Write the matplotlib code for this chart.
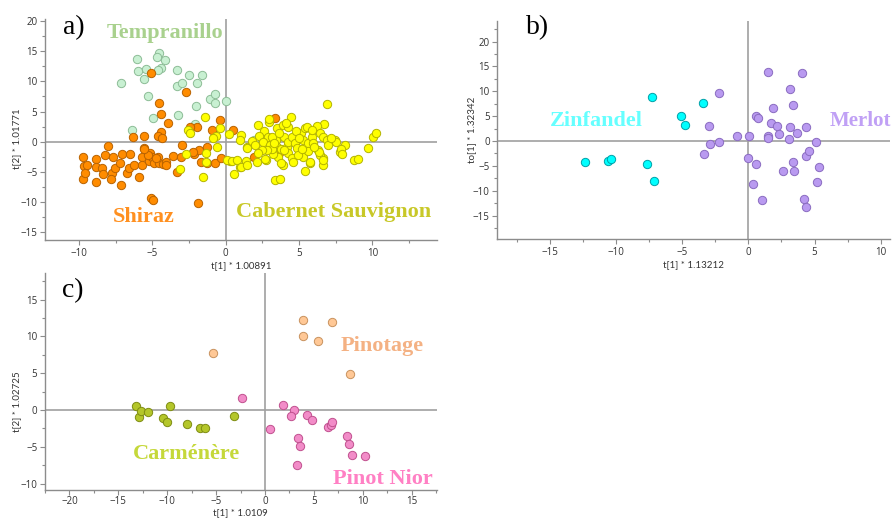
import numpy as np
import matplotlib.pyplot as plt
from matplotlib.ticker import MultipleLocator

# ---- panel a) data ----
tempranillo_x = [-7.15, -6.05, -5.95, -5.45, -5.6, -4.57, -4.68, -4.13, -4.38, -4.6, -5.27, -4.93,
                 -3.3, -3.35, -2.97, -2.48, -1.97, -1.62, -2.03, -1.07, -0.7, -0.73, 0.0, -3.25,
                 -2.07, -6.4, 1.95]
tempranillo_y = [9.8, 13.7, 11.7, 12.0, 10.45, 14.7, 13.95, 13.5, 12.26, 11.9, 7.6, 3.85,
                 11.87, 9.28, 9.75, 11.05, 9.67, 11.1, 5.93, 7.02, 7.85, 6.45, 6.66, 4.4,
                 2.98, 1.9, 0.33]

shiraz_x = [-5.11, -2.73, -4.52, -4.41, -3.95, -4.41, -4.61, -4.32, -5.59, -6.3, -0.36, -0.91,
            0.52, -1.98, -2.41, 3.39, 3.65, 1.95, -5.11, -4.95, -1.86,
            -9.75, -9.64, -9.75, -9.59, -8.82, -8.84, -8.82, -8.23, -8.05, -8.41, -8.39, -7.66,
            -7.73, -7.82, -7.16, -7.55, -7.2, -7.05, -6.52, -6.75, -6.57, -6.25, -5.89, -5.73,
            -5.57, -5.73, -5.23, -5.14, -5.0, -4.89, -4.61, -4.52, -4.25, -4.09, -3.57, -3.34,
            -3.0, -3.05, -2.16, -1.82, -1.68, -1.3, -0.75, -0.3,
            -9.48, -5.28, -4.77, -4.07, -2.25, -1.3, -5.55]
shiraz_y = [11.33, 8.18, 6.41, 4.53, 3.04, 1.66, 0.88, 0.66, 0.94, 0.72, 3.59, 1.93,
            1.99, 2.49, 2.38, 3.98, -1.82, -2.6, -9.39, -9.67, -10.22,
            -2.49, -4.03, -6.19, -5.25, -2.82, -4.14, -6.74, -2.15, -0.77, -4.42, -5.41, -2.49,
            -5.19, -6.19, -7.18, -4.42, -3.59, -2.04, -2.04, -5.25, -4.42, -3.87, -5.91, -2.49,
            -0.99, -3.87, -3.15, -1.93, -2.49, -3.59, -2.49, -3.59, -3.76, -3.43, -2.38, -4.97,
            -0.55, -2.6, -2.04, -1.38, -3.43, -0.94, -3.59, -2.76,
            -3.86, -2.2, -2.75, -3.86, -1.76, -3.47, -1.26]

cabernet_x = [-1.41, -2.55, -2.43, -0.39, -0.66, -0.89, -0.57, -1.34, -2.73, -1.34, -1.52, -3.11,
              0.2, 0.3, 0.59, 1.02, 0.98, 1.43, 1.39, 0.98, 2.23, 2.64, 2.91, 2.98, 3.48, 3.93,
              4.43, 4.27, 6.89, 6.7, 6.2, 7.45, 8.14, 7.8, 8.77, 9.0, 9.73, 10.07, 10.25, 3.39,
              3.7, 5.41, 5.75, 6.66, 6.66,
              4.11, 2.95, 2.3, 1.47, 0.06, 0.41, 0.79, 1.04, 1.43, 2.72, 2.52, 3.0, 3.43, 3.13,
              3.52, 3.75, 4.0, 4.16, 4.27, 4.5, 4.72, 4.84, 5.13, 5.25, 5.25, 5.41, 5.57, 5.63,
              5.63, 5.86, 5.93, 6.27, 6.43, 6.43, 6.66, 6.66, 6.93, 7.52, 7.84, 7.91, 5.75, 2.68,
              3.59, 3.93, 4.27, 4.5, 3.25, 3.18, 2.79, 2.45, 4.95, 5.18, 6.38,
              1.8, 2.0, 2.2, 3.6, 4.8, 5.0, 3.3, 4.0, 2.1, 5.9, 6.0, 7.0, 7.2, 3.8, 4.6]
cabernet_y = [4.14, 1.93, 1.38, 2.21, 0.94, 0.66, -0.83, -1.82, -2.04, -3.43, -5.8, -4.59,
              1.27, -3.26, -5.41, 1.1, 0.28, -0.83, -3.2, -4.25, 2.76, 1.77, 0.72, 3.31, 2.21, 2.76,
              4.03, 2.49, 6.24, 2.93, 2.65, 0.28, -0.55, -1.66, -3.04, -2.93, -0.99, 0.72, 1.49, -6.35,
              -6.24, -4.86, -3.59, -3.87, -2.76,
              3.15, 3.7, 1.0, -1.1, -3.04, -3.15, -3.04, -4.25, -3.86, -3.04, 0.0, -0.55, 0.28, 0.83,
              -0.82, -1.2, 0.72, -0.82, 0.0, 0.83, -0.27, -1.1, 1.38, 0.28, -2.48, 2.21, 2.48, -0.27,
              -1.49, 0.83, -0.27, -1.38, 1.38, -2.2, 0.83, -3.04, 0.28, 0.0, -1.2, -2.04, -3.31, -2.87,
              -2.6, -3.86, -1.93, -2.76, -2.04, -1.27, -1.38, -1.38, -2.2, -1.27, -1.66,
              0.2, -0.5, -1.9, 1.5, 1.8, 0.6, -0.2, -1.3, -3.3, 2.0, -0.9, -0.6, 0.6, -3.5, -3.3]

# ---- panel b) data ----
zinfandel_x = [-12.34, -10.58, -10.35, -7.63, -7.1, -7.3, -5.09, -4.76, -3.4]
zinfandel_y = [-4.16, -4.03, -3.62, -4.7, -8.05, 8.86, 4.97, 3.22, 7.58]

merlot_x = [-2.19, -3.0, -2.9, -3.35, -2.19, -0.88, 0.05, 0.0, 0.58, 0.71, 0.58, 0.38, 1.03,
            1.51, 1.51, 1.46, 1.71, 1.84, 2.19, 2.34, 2.64, 3.12, 3.12, 3.07, 3.35, 3.35, 3.48,
            3.7, 4.03, 4.36, 4.36, 4.23, 4.36, 4.61, 5.09, 5.16, 5.34]
merlot_y = [9.6, 2.95, -0.67, -2.68, -0.13, 1.07, 0.94, -3.36, 5.1, 4.56, -4.56, -8.72, -11.81,
            13.83, 1.07, 0.54, 3.56, 6.71, 3.02, 1.48, -6.04, 10.47, 2.82, 0.34, 7.25, -4.3, -6.04,
            1.54, 13.62, 2.82, -3.09, -11.68, -13.29, -1.95, -0.2, -8.19, -5.23]

# ---- panel c) data ----
carmenere_x = [-13.21, -12.87, -12.73, -12.01, -10.48, -10.03, -9.73, -8.02, -6.66, -6.11, -3.14]
carmenere_y = [0.54, -0.9, -0.13, -0.31, -1.03, -1.66, 0.58, -1.93, -2.42, -2.42, -0.85]

pinotage_x = [-5.29, 3.86, 6.83, 3.92, 5.46, 8.74]
pinotage_y = [7.7, 12.18, 11.96, 9.99, 9.31, 4.93]

pinot_x = [-2.39, 1.88, 2.97, 2.63, 0.51, 4.3, 4.85, 3.41, 3.58, 3.24, 6.48, 6.76, 6.89,
           8.36, 8.63, 8.94, 10.27]
pinot_y = [1.57, 0.67, 0.0, -0.85, -2.6, -0.67, -1.43, -3.76, -4.93, -7.52, -2.37, -2.1, -1.57,
           -3.49, -4.66, -6.05, -6.27]

W, H = 895, 520
fig = plt.figure(figsize=(W / 100, H / 100), dpi=100)


def make_axes(left, right, top, bottom, xlim, ylim, xpad=2):
    ax = fig.add_axes([left / W, 1 - bottom / H, (right - left) / W, (bottom - top) / H])
    ax.patch.set_alpha(0)
    ax.set_xlim(*xlim)
    ax.set_ylim(*ylim)
    for s in ['top', 'right']:
        ax.spines[s].set_visible(False)
    for s in ['left', 'bottom']:
        ax.spines[s].set_color('#8c8c8c')
        ax.spines[s].set_linewidth(1.0)
    ax.xaxis.set_major_locator(MultipleLocator(5))
    ax.yaxis.set_major_locator(MultipleLocator(5))
    ax.xaxis.set_minor_locator(MultipleLocator(2.5))
    ax.yaxis.set_minor_locator(MultipleLocator(2.5))
    ax.tick_params(which='major', length=3.5, width=0.8, color='#8c8c8c',
                   labelsize=7, labelcolor='#333333', pad=2)
    ax.tick_params(axis='x', which='major', pad=xpad)
    ax.tick_params(which='minor', length=2, width=0.8, color='#8c8c8c')
    ax.axhline(0, color='#a0a0a0', linewidth=1.2, zorder=1)
    ax.axvline(0, color='#a0a0a0', linewidth=1.2, zorder=1)
    for lab in ax.get_xticklabels() + ax.get_yticklabels():
        lab.set_family('Open Sans')
    return ax


def dots(ax, x, y, face, edge):
    ax.scatter(x, y, s=36, c=face, edgecolors=edge, linewidths=0.7, zorder=3)


def label(x, y, s, color, size=16, weight='bold'):
    fig.text(x / W, 1 - y / H, s, color=color, fontsize=size, fontweight=weight,
             family='Liberation Serif', ha='left', va='center')


axis_font = dict(fontsize=7, color='#333333', family='Lato')

# a)
ax1 = make_axes(45, 436.7, 19.1, 240, (-12.32, 14.38), (-16.27, 20.3))
dots(ax1, tempranillo_x, tempranillo_y, '#c8f0d2', '#8cbc96')
dots(ax1, shiraz_x, shiraz_y, '#ff8c00', '#b86200')
dots(ax1, cabernet_x, cabernet_y, '#ffff00', '#b4b400')
ax1.set_xlabel('t[1] * 1.00891', **axis_font)
ax1.set_ylabel('t[2] * 1.01771', **axis_font)
ax1.xaxis.set_label_coords(0.5, -0.095)
ax1.yaxis.set_label_coords(-0.060, 0.457)

# b)
ax2 = make_axes(497.3, 890, 20.7, 239.3, (-18.96, 10.7), (-19.78, 24.2))
dots(ax2, zinfandel_x, zinfandel_y, '#00ffff', '#00a0a8')
dots(ax2, merlot_x, merlot_y, '#b99af0', '#8a6cc0')
ax2.set_xlabel('t[1] * 1.13212', **axis_font)
ax2.set_ylabel('to[1] * 1.32342', **axis_font)
ax2.xaxis.set_label_coords(0.5, -0.095)
ax2.yaxis.set_label_coords(-0.054, 0.5)

# c)
ax3 = make_axes(45, 436.7, 273, 490, (-22.5, 17.57), (-10.87, 18.6), xpad=1)
dots(ax3, carmenere_x, carmenere_y, '#b4c62a', '#7e8c12')
dots(ax3, pinotage_x, pinotage_y, '#ffc896', '#c8925e')
dots(ax3, pinot_x, pinot_y, '#f28cc8', '#c0508e')
ax3.set_xlabel('t[1] * 1.0109', **axis_font)
ax3.set_ylabel('t[2] * 1.02725', **axis_font)
ax3.xaxis.set_label_coords(0.5, -0.085)
ax3.yaxis.set_label_coords(-0.060, 0.408)

# panel letters and group names
label(63, 28, 'a)', 'black', size=20, weight='normal')
label(526, 28, 'b)', 'black', size=20, weight='normal')
label(62, 291, 'c)', 'black', size=20, weight='normal')

label(107, 33, 'Tempranillo', '#a9d18e')
label(113, 217, 'Shiraz', '#ff9020')
label(236, 212, 'Cabernet Sauvignon', '#c8c828')
label(550, 121, 'Zinfandel', '#66ffff')
label(830, 121, 'Merlot', '#c0a0f5', size=15)
label(341, 346, 'Pinotage', '#f4b183')
label(133, 454, 'Carménère', '#c5d83a')
label(333, 479, 'Pinot Nior', '#ff80c4')

plt.savefig('out.png', dpi=100)
